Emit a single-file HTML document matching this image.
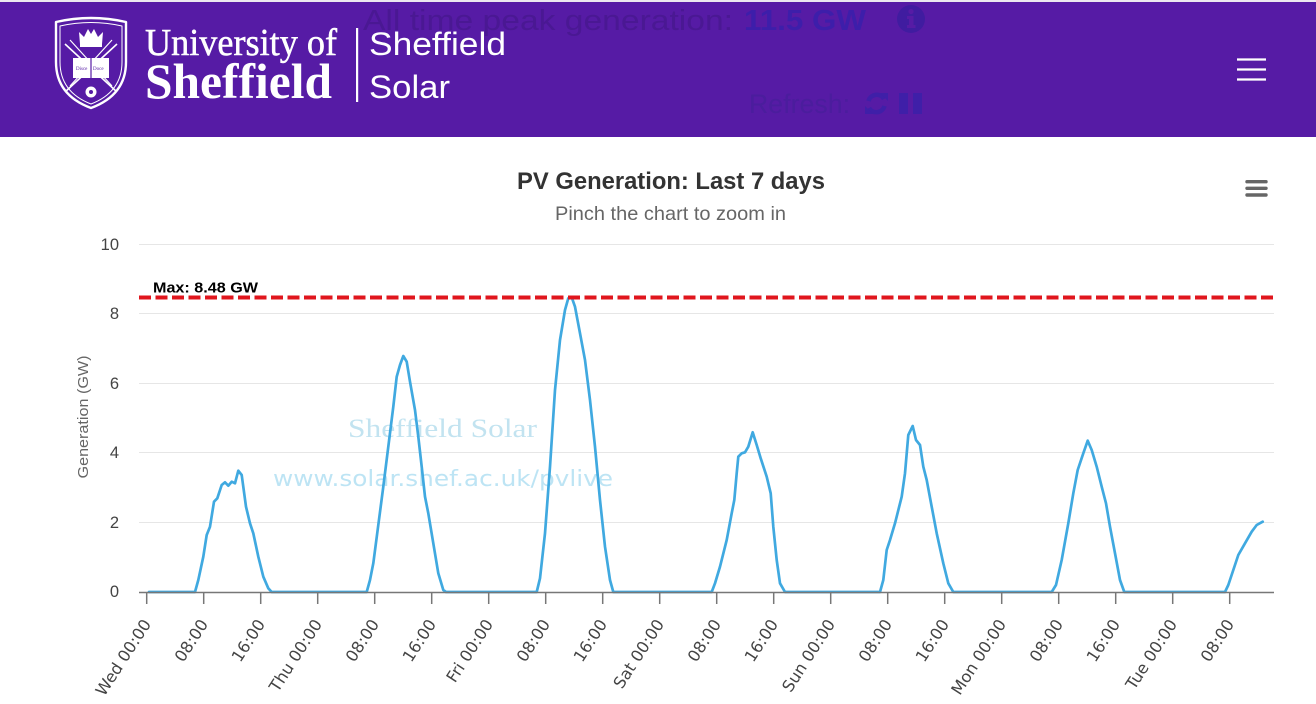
<!DOCTYPE html>
<html>
<head>
<meta charset="utf-8">
<style>
html,body{margin:0;padding:0;background:#fff;}
body{width:1316px;height:704px;overflow:hidden;}
svg{display:block;}
</style>
</head>
<body>
<svg width="1316" height="704" viewBox="0 0 1316 704" xmlns="http://www.w3.org/2000/svg">
  <!-- header -->
  <rect x="0" y="0" width="1316" height="2" fill="#ebe8f0"/>
  <rect x="0" y="2" width="1316" height="135" fill="#561ba5"/>

  <!-- shield logo -->
  <g fill="none" stroke="#fff" stroke-width="2.4" stroke-linejoin="round">
    <path d="M56,22 Q91,14 126,22 L126,62 Q126,95 91,108 Q56,95 56,62 Z"/>
    <path d="M60,26 Q91,19 122,26 L122,62 Q122,92 91,104 Q60,92 60,62 Z" stroke-width="1"/>
    <line x1="65" y1="44" x2="117" y2="92" stroke-width="1.6"/>
    <line x1="117" y1="44" x2="65" y2="92" stroke-width="1.6"/>
    <line x1="70" y1="40" x2="112" y2="86" stroke-width="1.2"/>
    <line x1="112" y1="40" x2="70" y2="86" stroke-width="1.2"/>
  </g>
  <g fill="#fff">
    <path d="M80,44 L79,32 L84,37 L88,29 L91,34 L94,29 L98,37 L103,32 L102,44 Z"/>
    <rect x="80" y="44" width="22" height="3"/>
    <rect x="73" y="58" width="36" height="20"/>
    <circle cx="91" cy="92" r="5.5"/>
  </g>
  <line x1="91" y1="58" x2="91" y2="78" stroke="#561ba5" stroke-width="1.2"/>
  <text x="76" y="70" font-family="Liberation Serif, serif" font-size="5" fill="#561ba5">Disce</text>
  <text x="93" y="70" font-family="Liberation Serif, serif" font-size="5" fill="#561ba5">Doce</text>
  <circle cx="91" cy="92" r="2" fill="#561ba5"/>

  <text x="145" y="55" font-family="Liberation Serif, serif" font-size="38" fill="#fff" stroke="#fff" stroke-width="0.5" textLength="192" lengthAdjust="spacingAndGlyphs">University of</text>
  <text x="145" y="98" font-family="Liberation Serif, serif" font-weight="bold" font-size="50" fill="#fff" textLength="187" lengthAdjust="spacingAndGlyphs">Sheffield</text>
  <rect x="356" y="28" width="2.2" height="74" fill="#fff"/>
  <text x="369" y="55" font-family="Liberation Sans, sans-serif" font-size="32" fill="#fff" textLength="137" lengthAdjust="spacingAndGlyphs">Sheffield</text>
  <text x="369" y="98" font-family="Liberation Sans, sans-serif" font-size="32" fill="#fff" textLength="81" lengthAdjust="spacingAndGlyphs">Solar</text>

  <!-- header center texts (shown through) -->
  <text x="363" y="30" font-family="Liberation Sans, sans-serif" font-size="29" fill="#4a1893" textLength="370" lengthAdjust="spacingAndGlyphs">All time peak generation:</text>
  <text x="744" y="30" font-family="Liberation Sans, sans-serif" font-weight="bold" font-size="29" fill="#3d1eaa" textLength="122" lengthAdjust="spacingAndGlyphs">11.5 GW</text>
  <circle cx="911" cy="19" r="14" fill="#401ca0"/>
  <circle cx="911" cy="11.5" r="2.6" fill="#561ba5"/>
  <path d="M907,16 L913.5,16 L913.5,25 L915.5,25 L915.5,28 L907,28 L907,25 L909,25 L909,19 L907,19 Z" fill="#561ba5"/>
  <text x="749" y="113" font-family="Liberation Sans, sans-serif" font-size="27" fill="#4b1d9d" textLength="101" lengthAdjust="spacingAndGlyphs">Refresh:</text>
  <g stroke="#3f1fa8" stroke-width="4.5" fill="none">
    <path d="M868.5,101 A8.5,8.5 0 0 1 884,99"/>
    <path d="M884.5,106 A8.5,8.5 0 0 1 869,108"/>
  </g>
  <path d="M880,93 L888,93 L888,101 Z" fill="#3f1fa8"/>
  <path d="M865,114 L865,106 L873,114 Z" fill="#3f1fa8"/>
  <rect x="899" y="93" width="9" height="21" fill="#3f1fa8"/>
  <rect x="913" y="93" width="9" height="21" fill="#3f1fa8"/>

  <!-- hamburger -->
  <g stroke="#fff" stroke-width="2.2">
    <line x1="1237" y1="59.5" x2="1266" y2="59.5"/>
    <line x1="1237" y1="69.5" x2="1266" y2="69.5"/>
    <line x1="1237" y1="79.5" x2="1266" y2="79.5"/>
  </g>

  <!-- chart title -->
  <text x="671" y="189" text-anchor="middle" font-family="Liberation Sans, sans-serif" font-weight="bold" font-size="24" fill="#333" textLength="308" lengthAdjust="spacingAndGlyphs">PV Generation: Last 7 days</text>
  <text x="670.5" y="220" text-anchor="middle" font-family="Liberation Sans, sans-serif" font-size="19.5" fill="#666" textLength="231" lengthAdjust="spacingAndGlyphs">Pinch the chart to zoom in</text>

  <!-- chart menu -->
  <g stroke="#666" stroke-width="3.4" stroke-linecap="round">
    <line x1="1247" y1="181.7" x2="1266" y2="181.7"/>
    <line x1="1247" y1="188.3" x2="1266" y2="188.3"/>
    <line x1="1247" y1="195" x2="1266" y2="195"/>
  </g>

  <!-- grid -->
  <g stroke="#e6e6e6" stroke-width="1">
    <line x1="139" y1="244.5" x2="1274" y2="244.5"/>
    <line x1="139" y1="313.5" x2="1274" y2="313.5"/>
    <line x1="139" y1="383.5" x2="1274" y2="383.5"/>
    <line x1="139" y1="452.5" x2="1274" y2="452.5"/>
    <line x1="139" y1="522.5" x2="1274" y2="522.5"/>
  </g>

  <!-- y labels -->
  <g font-family="Liberation Sans, sans-serif" font-size="16.5" fill="#444" text-anchor="end">
    <text x="119" y="250">10</text>
    <text x="119" y="319">8</text>
    <text x="119" y="389">6</text>
    <text x="119" y="458">4</text>
    <text x="119" y="528">2</text>
    <text x="119" y="597">0</text>
  </g>
  <text transform="translate(88,417) rotate(-90)" text-anchor="middle" font-family="Liberation Sans, sans-serif" font-size="15" fill="#666" textLength="123" lengthAdjust="spacingAndGlyphs">Generation (GW)</text>

  <!-- watermark -->
  <text x="348" y="437" font-family="Liberation Serif, serif" font-size="26" fill="#c2e3f0" textLength="189" lengthAdjust="spacingAndGlyphs">Sheffield Solar</text>
  <text x="273" y="486" font-family="DejaVu Sans, sans-serif" font-size="22" fill="#bde4f4" textLength="340" lengthAdjust="spacingAndGlyphs">www.solar.shef.ac.uk/pvlive</text>

  <!-- series -->
  <polyline fill="none" stroke="#40a9e0" stroke-width="2.7" stroke-linejoin="round" stroke-linecap="round" points="149,592 195,592 198.3,580 203.3,556.7 206.7,535 210,526.7 214,501.7 217.3,498.3 221.7,485 225,482.3 228.3,485.7 231.7,481.7 235,483.3 238.3,470.7 241.7,475 246,506.7 250,523.3 253.3,533.3 258.3,556.7 263.3,576.7 268.3,588.3 271.7,592 366.7,592 370,580 373.3,563.3 378.3,525 383.3,486.7 388.3,446.7 393.3,406.7 396.7,376.7 400,365 403.3,356 406.7,361.7 410,381.7 415,410 418.3,436.7 421.7,466.7 425,496.7 428.3,513.3 433.3,543.3 438.3,573.3 443.3,590 446,592 536.7,592 540,578.3 545,533.3 550,466.7 555,390 560,340 565,310 568.3,298.3 571.7,297.3 575,306.7 580,333.3 585,360 590,400 595,446.7 600,500 605,546.7 610,580 613.3,592 711.7,592 715,583.3 720,566.7 726.7,540 731.7,513.3 734.3,500 736.7,473.3 738.3,456.7 741.7,453.3 745,452.3 748.3,446.7 752.7,432.3 756.7,445 760.7,458.3 766.7,476.7 770.7,493.3 773.3,526.7 776.7,560 780,583.3 785,592 880,592 883.3,580 886.7,550 890,540 895,523.3 901.7,496.7 905,473.3 908.3,435 912.7,426 916,440 920,445 923.3,466.7 926.7,480 931.7,506.7 936.7,533.3 943.3,563.3 948.3,583.3 953.3,592 1051.7,592 1056,585 1061.7,560 1068.3,523.3 1073.3,493.3 1077.7,470 1083.3,453.3 1087.7,440.7 1091.7,450 1096.7,466.7 1101.7,486.7 1106,503.3 1110,526.7 1115,553.3 1120,580 1124.3,592 1225,592 1228.3,585 1233.3,570 1238.3,555 1245,543.3 1251.7,531.7 1256.7,525 1262.7,521.7"/>

  <!-- max line -->
  <line x1="139" y1="297.5" x2="1274" y2="297.5" stroke="#e0161d" stroke-width="4" stroke-dasharray="12,4.5"/>
  <text x="153" y="292.5" font-family="Liberation Sans, sans-serif" font-weight="bold" font-size="15" fill="#000" textLength="105" lengthAdjust="spacingAndGlyphs">Max: 8.48 GW</text>

  <!-- x axis -->
  <line x1="139" y1="592.5" x2="1274" y2="592.5" stroke="#777" stroke-width="1.5"/>
  <g stroke="#777" stroke-width="1.5">
    <line x1="146.7" y1="592" x2="146.7" y2="604"/>
    <line x1="203.7" y1="592" x2="203.7" y2="604"/>
    <line x1="260.7" y1="592" x2="260.7" y2="604"/>
    <line x1="317.7" y1="592" x2="317.7" y2="604"/>
    <line x1="374.7" y1="592" x2="374.7" y2="604"/>
    <line x1="431.7" y1="592" x2="431.7" y2="604"/>
    <line x1="488.7" y1="592" x2="488.7" y2="604"/>
    <line x1="545.7" y1="592" x2="545.7" y2="604"/>
    <line x1="602.7" y1="592" x2="602.7" y2="604"/>
    <line x1="659.7" y1="592" x2="659.7" y2="604"/>
    <line x1="716.7" y1="592" x2="716.7" y2="604"/>
    <line x1="773.7" y1="592" x2="773.7" y2="604"/>
    <line x1="830.7" y1="592" x2="830.7" y2="604"/>
    <line x1="887.7" y1="592" x2="887.7" y2="604"/>
    <line x1="944.7" y1="592" x2="944.7" y2="604"/>
    <line x1="1001.7" y1="592" x2="1001.7" y2="604"/>
    <line x1="1058.7" y1="592" x2="1058.7" y2="604"/>
    <line x1="1115.7" y1="592" x2="1115.7" y2="604"/>
    <line x1="1172.7" y1="592" x2="1172.7" y2="604"/>
    <line x1="1229.7" y1="592" x2="1229.7" y2="604"/>
  </g>
  <g font-family="DejaVu Sans, sans-serif" font-size="16.2" fill="#444" text-anchor="end">
    <text transform="translate(151.7,624) rotate(-57)">Wed 00:00</text>
    <text transform="translate(208.7,624) rotate(-57)">08:00</text>
    <text transform="translate(265.7,624) rotate(-57)">16:00</text>
    <text transform="translate(322.7,624) rotate(-57)">Thu 00:00</text>
    <text transform="translate(379.7,624) rotate(-57)">08:00</text>
    <text transform="translate(436.7,624) rotate(-57)">16:00</text>
    <text transform="translate(493.7,624) rotate(-57)">Fri 00:00</text>
    <text transform="translate(550.7,624) rotate(-57)">08:00</text>
    <text transform="translate(607.7,624) rotate(-57)">16:00</text>
    <text transform="translate(664.7,624) rotate(-57)">Sat 00:00</text>
    <text transform="translate(721.7,624) rotate(-57)">08:00</text>
    <text transform="translate(778.7,624) rotate(-57)">16:00</text>
    <text transform="translate(835.7,624) rotate(-57)">Sun 00:00</text>
    <text transform="translate(892.7,624) rotate(-57)">08:00</text>
    <text transform="translate(949.7,624) rotate(-57)">16:00</text>
    <text transform="translate(1006.7,624) rotate(-57)">Mon 00:00</text>
    <text transform="translate(1063.7,624) rotate(-57)">08:00</text>
    <text transform="translate(1120.7,624) rotate(-57)">16:00</text>
    <text transform="translate(1177.7,624) rotate(-57)">Tue 00:00</text>
    <text transform="translate(1234.7,624) rotate(-57)">08:00</text>
  </g>
</svg>
</body>
</html>
